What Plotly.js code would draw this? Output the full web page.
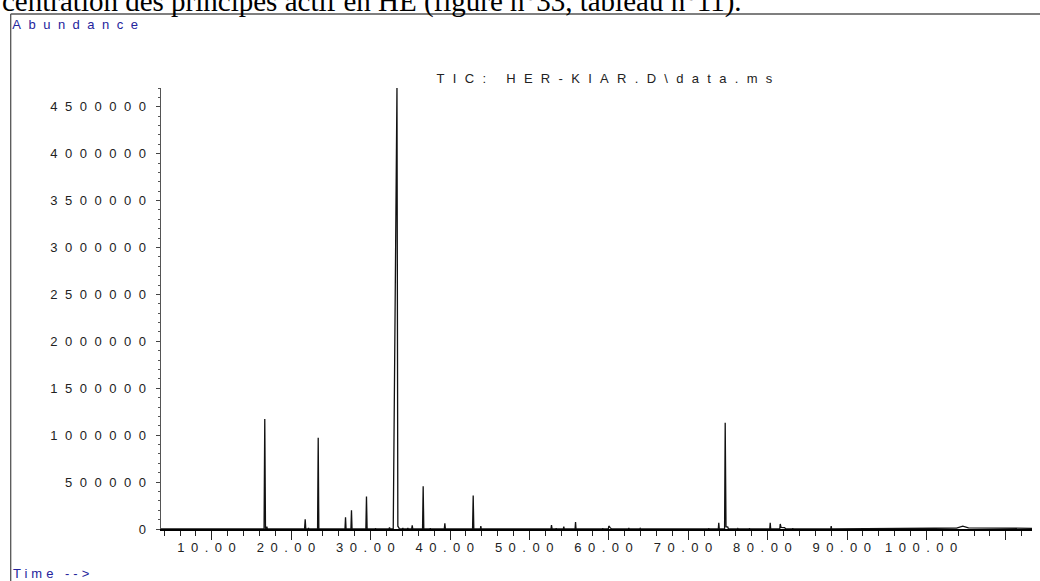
<!DOCTYPE html>
<html>
<head>
<meta charset="utf-8">
<script src="https://cdn.plot.ly/plotly-3.0.1.min.js"></script>
<style>
  html, body { margin: 0; padding: 0; background: #fff; }
  #chart { width: 1040px; height: 581px; }
  .xtick text { letter-spacing: 6.5px; }
  .ytick text { letter-spacing: 7.5px; }
  .annotation[data-index="1"] text { letter-spacing: 7.5px; }
  .annotation[data-index="2"] text { letter-spacing: 4px; }
  .annotation[data-index="3"] text { letter-spacing: 8.3px; }
</style>
</head>
<body>
<div id="chart"></div>
<script>
// Retention time (min) and TIC abundance
const retentionTime = [
  3.6,
  16.58, 16.67, 16.76, 16.88, 16.93, 17.0,
  19.74, 19.79, 19.84,
  21.68, 21.76, 21.84, 22.13, 22.18, 22.23,
  23.32, 23.40, 23.48,
  24.43, 24.48, 24.53,
  26.77, 26.84, 26.91,
  27.52, 27.59, 27.66,
  28.42, 28.47, 28.52,
  29.40, 29.48, 29.56,
  30.57, 30.62, 30.67,
  32.30, 32.38, 32.46,
  32.85, 33.32, 33.43, 33.55, 33.62,
  34.00, 34.06, 34.12,
  34.63, 34.69, 34.75,
  35.17, 35.24, 35.31,
  36.11, 36.16, 36.21,
  36.54, 36.62, 36.70,
  37.46, 37.51, 37.56,
  39.28, 39.35, 39.42,
  41.99, 42.04, 42.09,
  42.84, 42.92, 43.00,
  43.82, 43.88, 43.94,
  52.72, 52.78, 52.86,
  53.32, 53.37, 53.42,
  54.27, 54.33, 54.39,
  55.00, 55.05, 55.10,
  55.75, 55.81, 55.87,
  59.19, 59.24, 59.29,
  59.94, 60.00, 60.20, 60.35,
  62.47, 62.52, 62.57,
  63.90, 63.95, 64.00,
  72.54, 72.59, 72.64,
  73.79, 73.85, 73.91,
  74.58, 74.66, 74.76, 74.99, 75.06,
  76.20, 76.25, 76.30,
  77.67, 77.72, 77.77,
  80.27, 80.33, 80.39,
  81.53, 81.59, 81.70, 82.13, 82.30,
  83.12, 83.17, 83.22,
  87.95, 88.01, 88.07,
  98.5, 99.5, 101.0, 103.8, 104.58, 105.3, 106.8, 107.1, 107.5, 110.0, 113.3
];
const abundance = [
  0,
  0, 1173000, 0, 0, 25000, 0,
  0, 5000, 0,
  0, 103000, 0, 0, 10000, 0,
  0, 973000, 0,
  0, 8000, 0,
  0, 125000, 0,
  0, 199000, 0,
  0, 8000, 0,
  0, 347000, 0,
  0, 8000, 0,
  0, 15000, 0,
  0, 4700000, 30000, 15000, 0,
  0, 10000, 0,
  0, 10000, 0,
  0, 40000, 0,
  0, 8000, 0,
  0, 455000, 0,
  0, 8000, 0,
  0, 61000, 0,
  0, 8000, 0,
  0, 357000, 0,
  0, 32000, 0,
  0, 42000, 0,
  0, 8000, 0,
  0, 25000, 0,
  0, 5000, 0,
  0, 75000, 0,
  0, 8000, 0,
  0, 32000, 12000, 0,
  0, 10000, 0,
  0, 6000, 0,
  0, 8000, 0,
  0, 67000, 0,
  0, 1133000, 25000, 20000, 0,
  0, 5000, 0,
  0, 8000, 0,
  0, 67000, 0,
  0, 53000, 18000, 15000, 0,
  0, 8000, 0,
  0, 32000, 0,
  0, 6000, 8000, 10000, 30000, 12000, 10000, 15000, 9000, 8000, 7000
];

const xTickVals = [10, 20, 30, 40, 50, 60, 70, 80, 90, 100, 110];
const xTickText = ['10.00', '20.00', '30.00', '40.00', '50.00', '60.00', '70.00', '80.00', '90.00', '100.00', ''];
const yTickVals = [0, 500000, 1000000, 1500000, 2000000, 2500000, 3000000, 3500000, 4000000, 4500000];
const yTickText = ['0', '500000', '1000000', '1500000', '2000000', '2500000', '3000000', '3500000', '4000000', '4500000'];

const chartTitle = 'TIC: HER-KIAR.D\\data.ms';
const yLabel = 'Abundance';
const xLabel = 'Time -->';
const pageText = 'centration des principes actif en HE (figure n°33, tableau n°11).';

// geometry helpers (plot area: left 161, top 88, width 871, height 441)
const L = 161, T = 88, W = 871, H = 441;
const px = p => (p - L) / W;
const py = p => (T + H - p) / H;

const trace = {
  x: retentionTime,
  y: abundance,
  type: 'scatter',
  mode: 'lines',
  line: { color: '#111', width: 1.3 },
  hoverinfo: 'skip'
};

const layout = {
  width: 1040, height: 581,
  margin: { l: L, r: 1040 - L - W, t: T, b: 581 - T - H },
  paper_bgcolor: '#fff', plot_bgcolor: '#fff',
  showlegend: false,
  font: { family: 'Liberation Sans, Arial, sans-serif', size: 13, color: '#222' },
  xaxis: {
    range: [3.6, 113.3],
    showgrid: false, zeroline: false,
    showline: true, linecolor: '#000', linewidth: 2,
    ticks: 'outside', ticklen: 9, tickwidth: 1, tickcolor: '#222',
    tickmode: 'array', tickvals: xTickVals, ticktext: xTickText,
    ticklabelshift: -2,
    ticklabelstandoff: -4,
    tickfont: { size: 13, color: '#222' },
    minor: { dtick: 2, tick0: 0, ticks: 'outside', ticklen: 5, tickwidth: 1, tickcolor: '#222', showgrid: false }
  },
  yaxis: {
    range: [0, 4700000],
    showgrid: false, zeroline: false,
    showline: true, linecolor: '#555', linewidth: 1,
    ticks: 'outside', ticklen: 4, tickwidth: 1, tickcolor: '#444',
    tickmode: 'array', tickvals: yTickVals, ticktext: yTickText,
    tickfont: { size: 13, color: '#222' },
    minor: { dtick: 100000, tick0: 0, ticks: 'outside', ticklen: 2.5, tickwidth: 1, tickcolor: '#555', showgrid: false }
  },
  shapes: [
    { type: 'line', xref: 'paper', yref: 'paper', x0: px(10.7), x1: px(10.7), y0: py(14), y1: py(590), line: { color: '#555', width: 1.3 } },
    { type: 'line', xref: 'paper', yref: 'paper', x0: px(10.7), x1: px(1045), y0: py(14), y1: py(14), line: { color: '#555', width: 1.3 } }
  ],
  annotations: [
    { xref: 'paper', yref: 'paper', x: px(0), y: py(1.5), xanchor: 'left', yanchor: 'middle',
      text: pageText, showarrow: false, font: { family: 'Liberation Serif, Times New Roman, serif', size: 29, color: '#000' } },
    { xref: 'paper', yref: 'paper', x: px(78.75), y: py(24.7), xanchor: 'center', yanchor: 'middle',
      text: yLabel, showarrow: false, font: { size: 13, color: '#24249c' } },
    { xref: 'paper', yref: 'paper', x: px(52.5), y: py(573), xanchor: 'center', yanchor: 'middle',
      text: xLabel, showarrow: false, font: { size: 13, color: '#24249c' } },
    { xref: 'paper', yref: 'paper', x: px(608.5), y: py(78), xanchor: 'center', yanchor: 'middle',
      text: chartTitle, showarrow: false, font: { size: 13, color: '#222' } }
  ]
};

Plotly.newPlot('chart', [trace], layout, { displayModeBar: false, staticPlot: true });
</script>
</body>
</html>
